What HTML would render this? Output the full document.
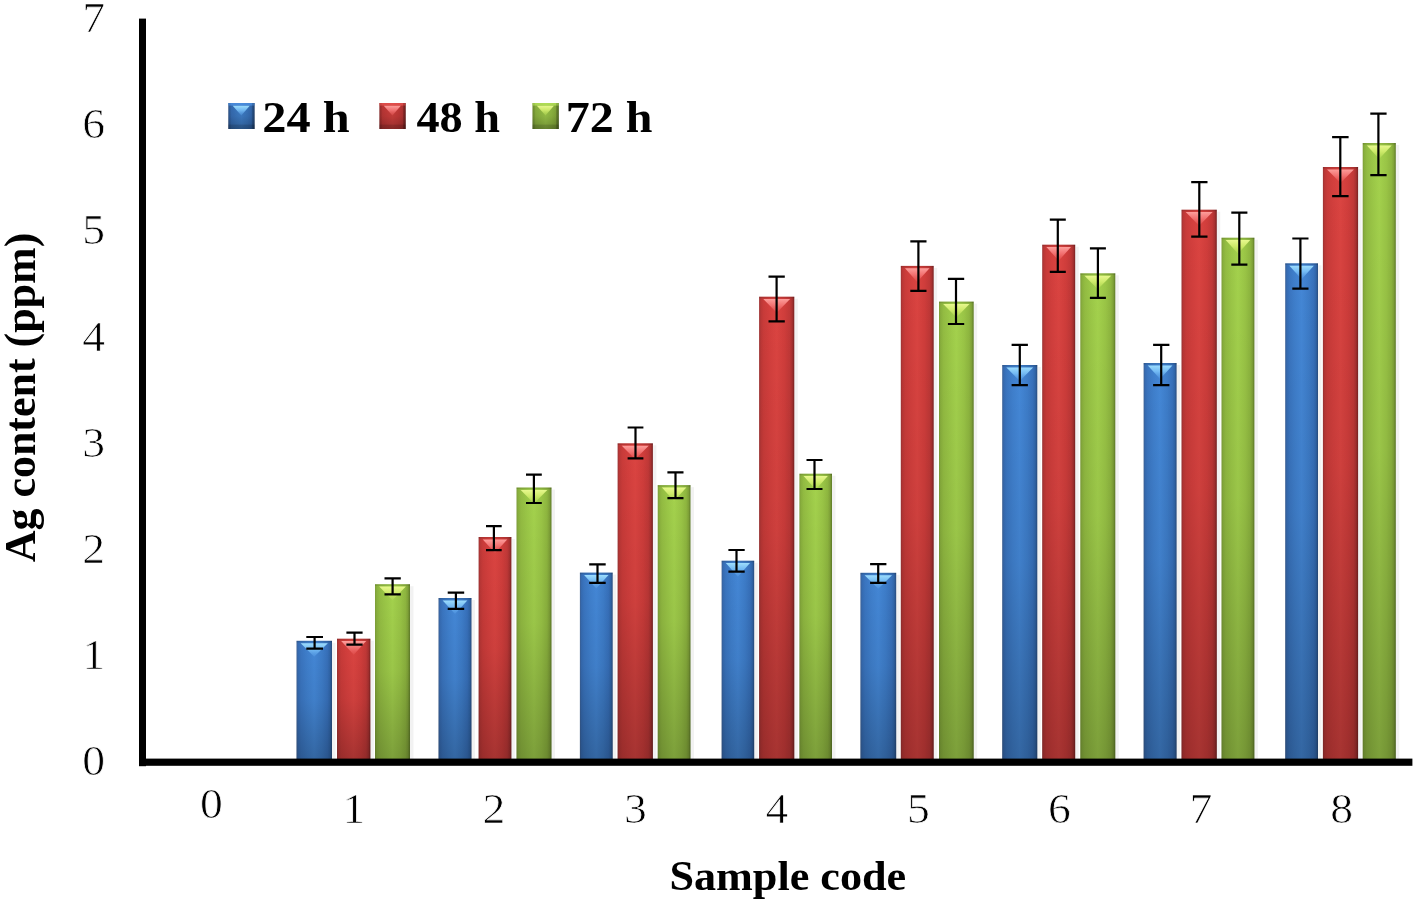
<!DOCTYPE html>
<html><head><meta charset="utf-8"><title>Ag content chart</title>
<style>
html,body{margin:0;padding:0;background:#fff;}
svg{display:block;}
text{font-family:"Liberation Serif","Times New Roman",serif;fill:#000;}
.b{font-weight:bold;}
.t{stroke:#fff;stroke-width:0.7px;paint-order:fill stroke;}
</style></head><body>
<svg width="1416" height="905" viewBox="0 0 1416 905">
<defs>
<linearGradient id="gb" x1="0" y1="0" x2="1" y2="0">
<stop offset="0" stop-color="#3d6196"/><stop offset="0.05" stop-color="#366cb3"/><stop offset="0.13" stop-color="#3a75c0"/><stop offset="0.3" stop-color="#3f7fcc"/><stop offset="0.5" stop-color="#4487d6"/><stop offset="0.72" stop-color="#3d7cc8"/><stop offset="0.87" stop-color="#3770ba"/><stop offset="0.94" stop-color="#3065a8"/><stop offset="1" stop-color="#294c7e"/>
</linearGradient>
<linearGradient id="gr" x1="0" y1="0" x2="1" y2="0">
<stop offset="0" stop-color="#9c3333"/><stop offset="0.05" stop-color="#bb3736"/><stop offset="0.13" stop-color="#c93b39"/><stop offset="0.3" stop-color="#d33f3d"/><stop offset="0.5" stop-color="#db4441"/><stop offset="0.72" stop-color="#d03d3b"/><stop offset="0.87" stop-color="#c03837"/><stop offset="0.94" stop-color="#a83130"/><stop offset="1" stop-color="#782222"/>
</linearGradient>
<linearGradient id="gg" x1="0" y1="0" x2="1" y2="0">
<stop offset="0" stop-color="#7d9d39"/><stop offset="0.05" stop-color="#89b03d"/><stop offset="0.13" stop-color="#93bc42"/><stop offset="0.3" stop-color="#9bc747"/><stop offset="0.5" stop-color="#a4d24d"/><stop offset="0.72" stop-color="#9ac546"/><stop offset="0.87" stop-color="#8eb63f"/><stop offset="0.94" stop-color="#80a238"/><stop offset="1" stop-color="#5e7b28"/>
</linearGradient>
<linearGradient id="gv" x1="0" y1="0" x2="0" y2="1">
<stop offset="0" stop-color="#000" stop-opacity="0"/><stop offset="0.5" stop-color="#000" stop-opacity="0.06"/><stop offset="1" stop-color="#000" stop-opacity="0.24"/>
</linearGradient>
<linearGradient id="tb" x1="0" y1="0" x2="0" y2="1"><stop offset="0" stop-color="#a2e2ff" stop-opacity="0.95"/><stop offset="0.45" stop-color="#7cc4fa" stop-opacity="0.85"/><stop offset="1" stop-color="#5aa0ea" stop-opacity="0.35"/></linearGradient>
<linearGradient id="tr" x1="0" y1="0" x2="0" y2="1"><stop offset="0" stop-color="#ffa3a0" stop-opacity="0.95"/><stop offset="0.45" stop-color="#f87c7c" stop-opacity="0.85"/><stop offset="1" stop-color="#ec5e5c" stop-opacity="0.35"/></linearGradient>
<linearGradient id="tg" x1="0" y1="0" x2="0" y2="1"><stop offset="0" stop-color="#ecfb92" stop-opacity="0.95"/><stop offset="0.45" stop-color="#d6f070" stop-opacity="0.85"/><stop offset="1" stop-color="#bce05a" stop-opacity="0.35"/></linearGradient>
</defs>
<rect width="1416" height="905" fill="#fff"/>

<rect x="332.0" y="642.8" width="3.5" height="116.4" fill="#000" opacity="0.05"/>
<rect x="296.5" y="640.8" width="35.5" height="118.4" fill="url(#gb)"/>
<rect x="296.5" y="640.8" width="35.5" height="118.4" fill="url(#gv)"/>
<polygon points="300.7,643.2 327.8,643.2 314.2,656.8" fill="url(#tb)"/>
<rect x="296.5" y="640.8" width="35.5" height="1.6" fill="#000" opacity="0.12"/>
<rect x="370.4" y="640.7" width="3.5" height="118.5" fill="#000" opacity="0.05"/>
<rect x="337.0" y="638.7" width="33.4" height="120.5" fill="url(#gr)"/>
<rect x="337.0" y="638.7" width="33.4" height="120.5" fill="url(#gv)"/>
<polygon points="341.2,641.1 366.2,641.1 353.7,654.7" fill="url(#tr)"/>
<rect x="337.0" y="638.7" width="33.4" height="1.6" fill="#000" opacity="0.12"/>
<rect x="410.0" y="586.2" width="3.5" height="173.0" fill="#000" opacity="0.05"/>
<rect x="375.0" y="584.2" width="35.0" height="175.0" fill="url(#gg)"/>
<rect x="375.0" y="584.2" width="35.0" height="175.0" fill="url(#gv)"/>
<polygon points="379.2,586.6 405.8,586.6 392.5,600.2" fill="url(#tg)"/>
<rect x="375.0" y="584.2" width="35.0" height="1.6" fill="#000" opacity="0.12"/>
<rect x="471.5" y="600.0" width="3.5" height="159.2" fill="#000" opacity="0.05"/>
<rect x="438.5" y="598.0" width="33.0" height="161.2" fill="url(#gb)"/>
<rect x="438.5" y="598.0" width="33.0" height="161.2" fill="url(#gv)"/>
<polygon points="442.7,600.4 467.3,600.4 455.0,614.0" fill="url(#tb)"/>
<rect x="438.5" y="598.0" width="33.0" height="1.6" fill="#000" opacity="0.12"/>
<rect x="511.4" y="539.0" width="3.5" height="220.2" fill="#000" opacity="0.05"/>
<rect x="478.6" y="537.0" width="32.8" height="222.2" fill="url(#gr)"/>
<rect x="478.6" y="537.0" width="32.8" height="222.2" fill="url(#gv)"/>
<polygon points="482.8,539.4 507.2,539.4 495.0,553.0" fill="url(#tr)"/>
<rect x="478.6" y="537.0" width="32.8" height="1.6" fill="#000" opacity="0.12"/>
<rect x="551.5" y="489.5" width="3.5" height="269.7" fill="#000" opacity="0.05"/>
<rect x="516.5" y="487.5" width="35.0" height="271.7" fill="url(#gg)"/>
<rect x="516.5" y="487.5" width="35.0" height="271.7" fill="url(#gv)"/>
<polygon points="520.7,489.9 547.3,489.9 534.0,503.5" fill="url(#tg)"/>
<rect x="516.5" y="487.5" width="35.0" height="1.6" fill="#000" opacity="0.12"/>
<rect x="612.7" y="574.6" width="3.5" height="184.6" fill="#000" opacity="0.05"/>
<rect x="579.9" y="572.6" width="32.8" height="186.6" fill="url(#gb)"/>
<rect x="579.9" y="572.6" width="32.8" height="186.6" fill="url(#gv)"/>
<polygon points="584.1,575.0 608.5,575.0 596.3,588.6" fill="url(#tb)"/>
<rect x="579.9" y="572.6" width="32.8" height="1.6" fill="#000" opacity="0.12"/>
<rect x="652.9" y="445.3" width="3.5" height="313.9" fill="#000" opacity="0.05"/>
<rect x="617.6" y="443.3" width="35.3" height="315.9" fill="url(#gr)"/>
<rect x="617.6" y="443.3" width="35.3" height="315.9" fill="url(#gv)"/>
<polygon points="621.8,445.7 648.7,445.7 635.2,459.3" fill="url(#tr)"/>
<rect x="617.6" y="443.3" width="35.3" height="1.6" fill="#000" opacity="0.12"/>
<rect x="690.5" y="487.1" width="3.5" height="272.1" fill="#000" opacity="0.05"/>
<rect x="657.7" y="485.1" width="32.8" height="274.1" fill="url(#gg)"/>
<rect x="657.7" y="485.1" width="32.8" height="274.1" fill="url(#gv)"/>
<polygon points="661.9,487.5 686.3,487.5 674.1,501.1" fill="url(#tg)"/>
<rect x="657.7" y="485.1" width="32.8" height="1.6" fill="#000" opacity="0.12"/>
<rect x="754.2" y="562.7" width="3.5" height="196.5" fill="#000" opacity="0.05"/>
<rect x="721.6" y="560.7" width="32.6" height="198.5" fill="url(#gb)"/>
<rect x="721.6" y="560.7" width="32.6" height="198.5" fill="url(#gv)"/>
<polygon points="725.8,563.1 750.0,563.1 737.9,576.7" fill="url(#tb)"/>
<rect x="721.6" y="560.7" width="32.6" height="1.6" fill="#000" opacity="0.12"/>
<rect x="794.3" y="298.7" width="3.5" height="460.5" fill="#000" opacity="0.05"/>
<rect x="759.1" y="296.7" width="35.2" height="462.5" fill="url(#gr)"/>
<rect x="759.1" y="296.7" width="35.2" height="462.5" fill="url(#gv)"/>
<polygon points="763.3,299.1 790.1,299.1 776.7,312.7" fill="url(#tr)"/>
<rect x="759.1" y="296.7" width="35.2" height="1.6" fill="#000" opacity="0.12"/>
<rect x="832.0" y="475.7" width="3.5" height="283.5" fill="#000" opacity="0.05"/>
<rect x="799.4" y="473.7" width="32.6" height="285.5" fill="url(#gg)"/>
<rect x="799.4" y="473.7" width="32.6" height="285.5" fill="url(#gv)"/>
<polygon points="803.6,476.1 827.8,476.1 815.7,489.7" fill="url(#tg)"/>
<rect x="799.4" y="473.7" width="32.6" height="1.6" fill="#000" opacity="0.12"/>
<rect x="896.2" y="574.8" width="3.5" height="184.4" fill="#000" opacity="0.05"/>
<rect x="860.4" y="572.8" width="35.8" height="186.4" fill="url(#gb)"/>
<rect x="860.4" y="572.8" width="35.8" height="186.4" fill="url(#gv)"/>
<polygon points="864.6,575.2 892.0,575.2 878.3,588.8" fill="url(#tb)"/>
<rect x="860.4" y="572.8" width="35.8" height="1.6" fill="#000" opacity="0.12"/>
<rect x="933.7" y="267.9" width="3.5" height="491.3" fill="#000" opacity="0.05"/>
<rect x="900.8" y="265.9" width="32.9" height="493.3" fill="url(#gr)"/>
<rect x="900.8" y="265.9" width="32.9" height="493.3" fill="url(#gv)"/>
<polygon points="905.0,268.3 929.5,268.3 917.2,281.9" fill="url(#tr)"/>
<rect x="900.8" y="265.9" width="32.9" height="1.6" fill="#000" opacity="0.12"/>
<rect x="973.7" y="303.6" width="3.5" height="455.6" fill="#000" opacity="0.05"/>
<rect x="939.0" y="301.6" width="34.7" height="457.6" fill="url(#gg)"/>
<rect x="939.0" y="301.6" width="34.7" height="457.6" fill="url(#gv)"/>
<polygon points="943.2,304.0 969.5,304.0 956.4,317.6" fill="url(#tg)"/>
<rect x="939.0" y="301.6" width="34.7" height="1.6" fill="#000" opacity="0.12"/>
<rect x="1037.3" y="367.0" width="3.5" height="392.2" fill="#000" opacity="0.05"/>
<rect x="1002.2" y="365.0" width="35.1" height="394.2" fill="url(#gb)"/>
<rect x="1002.2" y="365.0" width="35.1" height="394.2" fill="url(#gv)"/>
<polygon points="1006.4,367.4 1033.1,367.4 1019.8,381.0" fill="url(#tb)"/>
<rect x="1002.2" y="365.0" width="35.1" height="1.6" fill="#000" opacity="0.12"/>
<rect x="1075.2" y="246.7" width="3.5" height="512.5" fill="#000" opacity="0.05"/>
<rect x="1042.2" y="244.7" width="33.0" height="514.5" fill="url(#gr)"/>
<rect x="1042.2" y="244.7" width="33.0" height="514.5" fill="url(#gv)"/>
<polygon points="1046.4,247.1 1071.0,247.1 1058.7,260.7" fill="url(#tr)"/>
<rect x="1042.2" y="244.7" width="33.0" height="1.6" fill="#000" opacity="0.12"/>
<rect x="1115.3" y="275.3" width="3.5" height="483.9" fill="#000" opacity="0.05"/>
<rect x="1080.3" y="273.3" width="35.0" height="485.9" fill="url(#gg)"/>
<rect x="1080.3" y="273.3" width="35.0" height="485.9" fill="url(#gv)"/>
<polygon points="1084.5,275.7 1111.1,275.7 1097.8,289.3" fill="url(#tg)"/>
<rect x="1080.3" y="273.3" width="35.0" height="1.6" fill="#000" opacity="0.12"/>
<rect x="1176.6" y="365.0" width="3.5" height="394.2" fill="#000" opacity="0.05"/>
<rect x="1143.6" y="363.0" width="33.0" height="396.2" fill="url(#gb)"/>
<rect x="1143.6" y="363.0" width="33.0" height="396.2" fill="url(#gv)"/>
<polygon points="1147.8,365.4 1172.4,365.4 1160.1,379.0" fill="url(#tb)"/>
<rect x="1143.6" y="363.0" width="33.0" height="1.6" fill="#000" opacity="0.12"/>
<rect x="1216.8" y="211.7" width="3.5" height="547.5" fill="#000" opacity="0.05"/>
<rect x="1181.5" y="209.7" width="35.3" height="549.5" fill="url(#gr)"/>
<rect x="1181.5" y="209.7" width="35.3" height="549.5" fill="url(#gv)"/>
<polygon points="1185.7,212.1 1212.6,212.1 1199.2,225.7" fill="url(#tr)"/>
<rect x="1181.5" y="209.7" width="35.3" height="1.6" fill="#000" opacity="0.12"/>
<rect x="1254.4" y="239.7" width="3.5" height="519.5" fill="#000" opacity="0.05"/>
<rect x="1221.5" y="237.7" width="32.9" height="521.5" fill="url(#gg)"/>
<rect x="1221.5" y="237.7" width="32.9" height="521.5" fill="url(#gv)"/>
<polygon points="1225.7,240.1 1250.2,240.1 1238.0,253.7" fill="url(#tg)"/>
<rect x="1221.5" y="237.7" width="32.9" height="1.6" fill="#000" opacity="0.12"/>
<rect x="1318.0" y="265.3" width="3.5" height="493.9" fill="#000" opacity="0.05"/>
<rect x="1285.2" y="263.3" width="32.8" height="495.9" fill="url(#gb)"/>
<rect x="1285.2" y="263.3" width="32.8" height="495.9" fill="url(#gv)"/>
<polygon points="1289.4,265.7 1313.8,265.7 1301.6,279.3" fill="url(#tb)"/>
<rect x="1285.2" y="263.3" width="32.8" height="1.6" fill="#000" opacity="0.12"/>
<rect x="1358.1" y="169.0" width="3.5" height="590.2" fill="#000" opacity="0.05"/>
<rect x="1322.9" y="167.0" width="35.2" height="592.2" fill="url(#gr)"/>
<rect x="1322.9" y="167.0" width="35.2" height="592.2" fill="url(#gv)"/>
<polygon points="1327.1,169.4 1353.9,169.4 1340.5,183.0" fill="url(#tr)"/>
<rect x="1322.9" y="167.0" width="35.2" height="1.6" fill="#000" opacity="0.12"/>
<rect x="1395.8" y="145.0" width="3.5" height="614.2" fill="#000" opacity="0.05"/>
<rect x="1362.7" y="143.0" width="33.1" height="616.2" fill="url(#gg)"/>
<rect x="1362.7" y="143.0" width="33.1" height="616.2" fill="url(#gv)"/>
<polygon points="1366.9,145.4 1391.6,145.4 1379.2,159.0" fill="url(#tg)"/>
<rect x="1362.7" y="143.0" width="33.1" height="1.6" fill="#000" opacity="0.12"/>
<rect x="139" y="18.6" width="7" height="747.6" fill="#000"/>
<rect x="139" y="758.6" width="1273.4" height="7.2" fill="#000"/>
<path d="M306.3 637.0H323.0M306.3 648.6H323.0M314.6 637.0V648.6" stroke="#000" stroke-width="2.2" fill="none"/>
<path d="M346.4 632.6H362.6M346.4 644.7H362.6M354.5 632.6V644.7" stroke="#000" stroke-width="2.2" fill="none"/>
<path d="M384.5 578.4H400.8M384.5 594.4H400.8M392.6 578.4V594.4" stroke="#000" stroke-width="2.2" fill="none"/>
<path d="M447.7 592.7H464.2M447.7 608.8H464.2M455.9 592.7V608.8" stroke="#000" stroke-width="2.2" fill="none"/>
<path d="M486.0 526.1H501.7M486.0 550.2H501.7M493.9 526.1V550.2" stroke="#000" stroke-width="2.2" fill="none"/>
<path d="M526.0 474.6H541.8M526.0 503.0H541.8M533.9 474.6V503.0" stroke="#000" stroke-width="2.2" fill="none"/>
<path d="M589.2 564.3H605.7M589.2 582.8H605.7M597.5 564.3V582.8" stroke="#000" stroke-width="2.2" fill="none"/>
<path d="M627.6 427.5H643.4M627.6 458.3H643.4M635.5 427.5V458.3" stroke="#000" stroke-width="2.2" fill="none"/>
<path d="M667.4 472.4H683.5M667.4 498.2H683.5M675.5 472.4V498.2" stroke="#000" stroke-width="2.2" fill="none"/>
<path d="M728.4 550.0H744.7M728.4 571.6H744.7M736.5 550.0V571.6" stroke="#000" stroke-width="2.2" fill="none"/>
<path d="M768.5 276.6H784.8M768.5 321.3H784.8M776.6 276.6V321.3" stroke="#000" stroke-width="2.2" fill="none"/>
<path d="M806.5 460.0H822.5M806.5 489.0H822.5M814.5 460.0V489.0" stroke="#000" stroke-width="2.2" fill="none"/>
<path d="M870.1 564.1H886.4M870.1 582.8H886.4M878.2 564.1V582.8" stroke="#000" stroke-width="2.2" fill="none"/>
<path d="M910.3 241.3H926.5M910.3 290.9H926.5M918.4 241.3V290.9" stroke="#000" stroke-width="2.2" fill="none"/>
<path d="M947.9 278.8H964.2M947.9 324.0H964.2M956.0 278.8V324.0" stroke="#000" stroke-width="2.2" fill="none"/>
<path d="M1011.6 344.8H1027.9M1011.6 385.2H1027.9M1019.8 344.8V385.2" stroke="#000" stroke-width="2.2" fill="none"/>
<path d="M1049.8 219.6H1065.8M1049.8 271.9H1065.8M1057.8 219.6V271.9" stroke="#000" stroke-width="2.2" fill="none"/>
<path d="M1089.9 248.3H1105.9M1089.9 297.9H1105.9M1097.9 248.3V297.9" stroke="#000" stroke-width="2.2" fill="none"/>
<path d="M1153.1 344.8H1169.4M1153.1 385.2H1169.4M1161.2 344.8V385.2" stroke="#000" stroke-width="2.2" fill="none"/>
<path d="M1191.2 182.2H1207.5M1191.2 236.6H1207.5M1199.3 182.2V236.6" stroke="#000" stroke-width="2.2" fill="none"/>
<path d="M1231.3 212.6H1247.4M1231.3 264.6H1247.4M1239.3 212.6V264.6" stroke="#000" stroke-width="2.2" fill="none"/>
<path d="M1292.3 238.5H1308.5M1292.3 288.6H1308.5M1300.4 238.5V288.6" stroke="#000" stroke-width="2.2" fill="none"/>
<path d="M1332.1 137.2H1348.6M1332.1 196.2H1348.6M1340.3 137.2V196.2" stroke="#000" stroke-width="2.2" fill="none"/>
<path d="M1370.3 113.6H1386.6M1370.3 175.1H1386.6M1378.4 113.6V175.1" stroke="#000" stroke-width="2.2" fill="none"/>
<text class="t" x="93.7" y="775.0" font-size="41.5" text-anchor="middle" transform="translate(93.7 0) scale(1.1 1) translate(-93.7 0)">0</text>
<text class="t" x="93.7" y="668.9" font-size="41.5" text-anchor="middle" transform="translate(93.7 0) scale(1.1 1) translate(-93.7 0)">1</text>
<text class="t" x="93.7" y="562.8" font-size="41.5" text-anchor="middle" transform="translate(93.7 0) scale(1.1 1) translate(-93.7 0)">2</text>
<text class="t" x="93.7" y="456.7" font-size="41.5" text-anchor="middle" transform="translate(93.7 0) scale(1.1 1) translate(-93.7 0)">3</text>
<text class="t" x="93.7" y="350.6" font-size="41.5" text-anchor="middle" transform="translate(93.7 0) scale(1.1 1) translate(-93.7 0)">4</text>
<text class="t" x="93.7" y="244.5" font-size="41.5" text-anchor="middle" transform="translate(93.7 0) scale(1.1 1) translate(-93.7 0)">5</text>
<text class="t" x="93.7" y="138.4" font-size="41.5" text-anchor="middle" transform="translate(93.7 0) scale(1.1 1) translate(-93.7 0)">6</text>
<text class="t" x="93.7" y="32.3" font-size="41.5" text-anchor="middle" transform="translate(93.7 0) scale(1.1 1) translate(-93.7 0)">7</text>
<text class="t" x="211.5" y="818" font-size="41.5" text-anchor="middle" transform="translate(211.5 0) scale(1.1 1) translate(-211.5 0)">0</text>
<text class="t" x="354" y="822.8" font-size="41.5" text-anchor="middle" transform="translate(354 0) scale(1.1 1) translate(-354 0)">1</text>
<text class="t" x="494" y="822.8" font-size="41.5" text-anchor="middle" transform="translate(494 0) scale(1.1 1) translate(-494 0)">2</text>
<text class="t" x="635.3" y="822.8" font-size="41.5" text-anchor="middle" transform="translate(635.3 0) scale(1.1 1) translate(-635.3 0)">3</text>
<text class="t" x="777" y="822.8" font-size="41.5" text-anchor="middle" transform="translate(777 0) scale(1.1 1) translate(-777 0)">4</text>
<text class="t" x="918.3" y="822.8" font-size="41.5" text-anchor="middle" transform="translate(918.3 0) scale(1.1 1) translate(-918.3 0)">5</text>
<text class="t" x="1059.4" y="822.8" font-size="41.5" text-anchor="middle" transform="translate(1059.4 0) scale(1.1 1) translate(-1059.4 0)">6</text>
<text class="t" x="1200.9" y="822.8" font-size="41.5" text-anchor="middle" transform="translate(1200.9 0) scale(1.1 1) translate(-1200.9 0)">7</text>
<text class="t" x="1341.6" y="822.8" font-size="41.5" text-anchor="middle" transform="translate(1341.6 0) scale(1.1 1) translate(-1341.6 0)">8</text>
<text class="b" x="788" y="890" font-size="42" text-anchor="middle" transform="translate(787.8 0) scale(1.052 1) translate(-788 0)">Sample code</text>
<text class="b" x="0" y="0" font-size="45" text-anchor="middle" transform="translate(34.8 397.5) rotate(-90) scale(0.977 1)">Ag content (ppm)</text>
<rect x="228.3" y="103" width="26.3" height="26" fill="url(#gb)"/>
<rect x="228.3" y="103" width="26.3" height="26" fill="url(#gv)"/>
<rect x="228.3" y="103" width="26.3" height="2.6" fill="#4d8ede" opacity="0.7"/>
<rect x="228.3" y="124.6" width="26.3" height="4.4" fill="#000" opacity="0.13"/>
<rect x="228.3" y="105.6" width="26.3" height="23.4" fill="#000" opacity="0.07"/>
<rect x="251.9" y="103" width="2.7" height="26" fill="#000" opacity="0.14"/>
<rect x="228.3" y="103" width="2.4" height="26" fill="#000" opacity="0.06"/>
<polygon points="232.7,105.8 249.7,105.8 241.3,115.4" fill="url(#tb)"/>
<text class="b" x="262.3" y="131.6" font-size="45.3" transform="translate(262.3 0) scale(1.068 1) translate(-262.3 0)">24 h</text>
<rect x="379.4" y="103" width="26.3" height="26" fill="url(#gr)"/>
<rect x="379.4" y="103" width="26.3" height="26" fill="url(#gv)"/>
<rect x="379.4" y="103" width="26.3" height="2.6" fill="#e25350" opacity="0.7"/>
<rect x="379.4" y="124.6" width="26.3" height="4.4" fill="#000" opacity="0.13"/>
<rect x="379.4" y="105.6" width="26.3" height="23.4" fill="#000" opacity="0.07"/>
<rect x="403.0" y="103" width="2.7" height="26" fill="#000" opacity="0.14"/>
<rect x="379.4" y="103" width="2.4" height="26" fill="#000" opacity="0.06"/>
<polygon points="383.8,105.8 400.8,105.8 392.4,115.4" fill="url(#tr)"/>
<text class="b" x="416.4" y="131.6" font-size="45.3" transform="translate(416.4 0) scale(1.021 1) translate(-416.4 0)">48 h</text>
<rect x="532.5" y="103" width="26.3" height="26" fill="url(#gg)"/>
<rect x="532.5" y="103" width="26.3" height="26" fill="url(#gv)"/>
<rect x="532.5" y="103" width="26.3" height="2.6" fill="#b4e05a" opacity="0.7"/>
<rect x="532.5" y="124.6" width="26.3" height="4.4" fill="#000" opacity="0.13"/>
<rect x="532.5" y="105.6" width="26.3" height="23.4" fill="#000" opacity="0.07"/>
<rect x="556.1" y="103" width="2.7" height="26" fill="#000" opacity="0.14"/>
<rect x="532.5" y="103" width="2.4" height="26" fill="#000" opacity="0.06"/>
<polygon points="536.9,105.8 553.9,105.8 545.5,115.4" fill="url(#tg)"/>
<text class="b" x="565.8" y="131.6" font-size="45.3" transform="translate(565.8 0) scale(1.06 1) translate(-565.8 0)">72 h</text>
</svg></body></html>
